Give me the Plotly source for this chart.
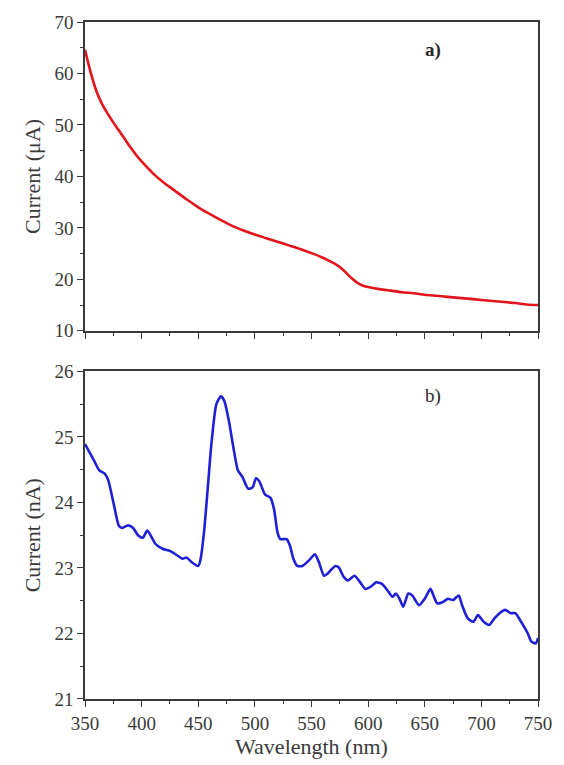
import plotly.graph_objects as go
from plotly.subplots import make_subplots

# Panel a) photocurrent (µA)
wl_a = [350, 355, 360, 365, 370, 375, 380, 385, 390, 395, 400, 410, 420, 430, 440, 450, 460, 470,
        480, 490, 500, 510, 520, 530, 540, 550, 560, 570, 575, 580, 585, 590, 595, 600,
        610, 620, 630, 640, 650, 660, 670, 680, 690, 700, 710, 720, 730, 740, 750]
cur_a = [64.6, 60.2, 56.6, 54.1, 52.2, 50.5, 48.9, 47.3, 45.7, 44.2, 42.9, 40.6, 38.7, 37.1,
         35.5, 34.0, 32.7, 31.5, 30.4, 29.5, 28.7, 28.0, 27.3, 26.6, 25.9, 25.1, 24.2, 23.1,
         22.4, 21.4, 20.3, 19.4, 18.8, 18.5, 18.1, 17.8, 17.5, 17.3, 17.0, 16.8, 16.6, 16.4,
         16.2, 16.0, 15.8, 15.6, 15.4, 15.1, 15.0]

# Panel b) photocurrent (nA)
wl_b = [350, 357.9, 362.6, 367.4, 370.5, 375.2, 380, 383, 388, 392.5, 397.3, 401, 405,
        412.6, 419, 425, 431.6, 436, 439.7, 444, 450, 452, 455, 458.5, 461.6, 466, 470,
        473, 477, 481, 485, 489, 494, 498, 501, 504, 509, 513.8, 517, 520, 522.6, 528,
        531, 534, 537.5, 542, 548.6, 553, 556.5, 561, 564, 571, 574, 578.6, 582, 588,
        593, 597.6, 602, 607, 612, 617, 621.5, 624.5, 627.7, 631, 635.5, 639, 645, 650,
        655, 657.7, 661, 666, 670.5, 675, 680, 683, 688, 693, 697, 702, 707, 711.5, 716,
        721, 726, 730, 735, 741, 744, 748, 750]
cur_b = [24.89, 24.64, 24.49, 24.44, 24.34, 23.99, 23.64, 23.61, 23.65, 23.61, 23.49, 23.46,
         23.57, 23.36, 23.29, 23.26, 23.19, 23.14, 23.16, 23.09, 23.03, 23.13, 23.53, 24.24,
         24.89, 25.50, 25.62, 25.55, 25.25, 24.84, 24.49, 24.39, 24.21, 24.23, 24.37, 24.32,
         24.12, 24.07, 23.89, 23.54, 23.44, 23.44, 23.34, 23.14, 23.03, 23.03, 23.13, 23.21,
         23.09, 22.88, 22.91, 23.03, 23.01, 22.86, 22.81, 22.88, 22.78, 22.68, 22.71, 22.78,
         22.76, 22.66, 22.56, 22.61, 22.53, 22.41, 22.61, 22.58, 22.43, 22.53, 22.68, 22.58,
         22.46, 22.48, 22.53, 22.51, 22.58, 22.43, 22.23, 22.18, 22.28, 22.18, 22.13, 22.23,
         22.31, 22.36, 22.31, 22.31, 22.18, 22.00, 21.88, 21.85, 21.93]

x_ticks = [350, 400, 450, 500, 550, 600, 650, 700, 750]

W, H = 564, 765
ml, mr, mt, mb = 85, 25, 15, 66
ph = H - mt - mb
top_dom = [(699 - 327) / ph, 1.0]
bot_dom = [0.0, (699 - 368) / ph]

fig = make_subplots(rows=2, cols=1)
fig.add_trace(go.Scatter(x=wl_a, y=cur_a, mode="lines",
                         line=dict(color="#e3141c", width=2.6, shape="spline", smoothing=0.8),
                         showlegend=False), row=1, col=1)
fig.add_trace(go.Scatter(x=wl_b, y=cur_b, mode="lines",
                         line=dict(color="#1f1fd6", width=2.6, shape="spline", smoothing=0.6),
                         showlegend=False), row=2, col=1)

font_family = "Liberation Serif, Times New Roman, serif"
txt_color = "#3a3a3a"
tick_font = dict(family=font_family, size=19, color=txt_color)
title_font = dict(family=font_family, size=22, color=txt_color)
axis_common = dict(showline=True, linecolor=txt_color, linewidth=1.6, mirror=True,
                   showgrid=False, zeroline=False, ticks="outside", ticklen=6,
                   tickwidth=1.4, tickcolor=txt_color, tickfont=tick_font)

fig.update_xaxes(range=[350, 750], tickvals=x_ticks,
                 minor=dict(ticks="outside", ticklen=3, tickwidth=1.2, tickcolor=txt_color, dtick=25, tick0=350),
                 **axis_common)
fig.update_xaxes(showticklabels=False, domain=[0, 1], row=1, col=1)
fig.update_xaxes(domain=[0, 1], row=2, col=1,
                 title=dict(text="Wavelength (nm)", font=title_font, standoff=4))
fig.update_yaxes(range=[10, 70], dtick=10, tick0=10, domain=top_dom,
                 minor=dict(ticks="outside", ticklen=3, tickwidth=1.2, tickcolor=txt_color, dtick=5, tick0=10),
                 title=dict(text="Current (μA)", font=title_font, standoff=8),
                 row=1, col=1, **axis_common)
fig.update_yaxes(range=[21, 26], dtick=1, tick0=21, domain=bot_dom,
                 minor=dict(ticks="outside", ticklen=3, tickwidth=1.2, tickcolor=txt_color, dtick=0.5, tick0=21),
                 title=dict(text="Current (nA)", font=title_font, standoff=8),
                 row=2, col=1, **axis_common)

fig.add_annotation(x=657, y=64.6, xref="x", yref="y", text="<b>a)</b>", showarrow=False,
                   font=dict(family=font_family, size=19, color="#2a2a2a"))
fig.add_annotation(x=657, y=25.62, xref="x2", yref="y2", text="b)", showarrow=False,
                   font=dict(family=font_family, size=19, color="#2a2a2a"))

fig.update_layout(width=W, height=H, margin=dict(l=ml, r=mr, t=mt, b=mb),
                  paper_bgcolor="white", plot_bgcolor="white")

fig.write_html("out.html")
